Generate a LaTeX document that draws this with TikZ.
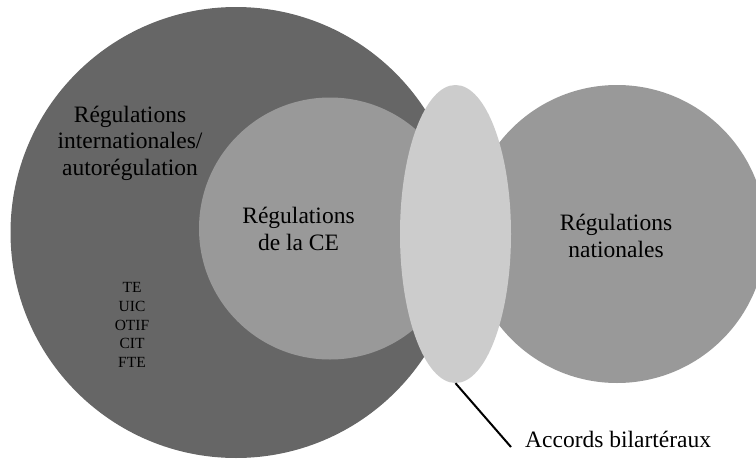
\documentclass[tikz,border=0pt]{standalone}
\usepackage{fontspec}
\setmainfont{Liberation Serif}
\usetikzlibrary{shapes.geometric}
\definecolor{darkzone}{RGB}{102,102,102}
\definecolor{midzone}{RGB}{153,153,153}
\definecolor{lightzone}{RGB}{204,204,204}
\begin{document}
\begin{tikzpicture}[x=1pt,y=-1pt,
  zone/.style={circle,inner sep=0pt,draw=none},
  biglabel/.style={align=center,inner sep=0pt,font=\fontsize{23.5}{26.5}\selectfont},
  smalllabel/.style={align=center,inner sep=0pt,font=\fontsize{15.5}{18.6}\selectfont},
  pointer/.style={line width=2pt,black}]
  \useasboundingbox (0,0) rectangle (756,461);
  % regulation zones
  \node[zone,fill=darkzone,minimum size=451pt] (intl) at (236,232.5) {};
  \node[zone,fill=midzone,minimum size=262pt] (ce) at (330,228.5) {};
  \node[zone,fill=midzone,minimum size=298pt] (nat) at (617,234) {};
  \node[ellipse,inner sep=0pt,fill=lightzone,minimum width=111pt,minimum height=298pt] (bil) at (455.5,234) {};
  % labels
  \node[biglabel] (intltxt) at (130,143) {Régulations\\internationales/\\autorégulation};
  \node[smalllabel] (orgs) at (132,325) {TE\\UIC\\OTIF\\CIT\\FTE};
  \node[biglabel] (cetxt) at (298.5,229) {Régulations\\de la CE};
  \node[biglabel] (nattxt) at (616,236) {Régulations\\nationales};
  \node[biglabel,anchor=base west,inner xsep=14pt] (acc) at (511,447) {Accords bilartéraux};
  % pointer to the bilateral agreements
  \draw[pointer] (bil.south) -- (acc.base west);
\end{tikzpicture}
\end{document}
